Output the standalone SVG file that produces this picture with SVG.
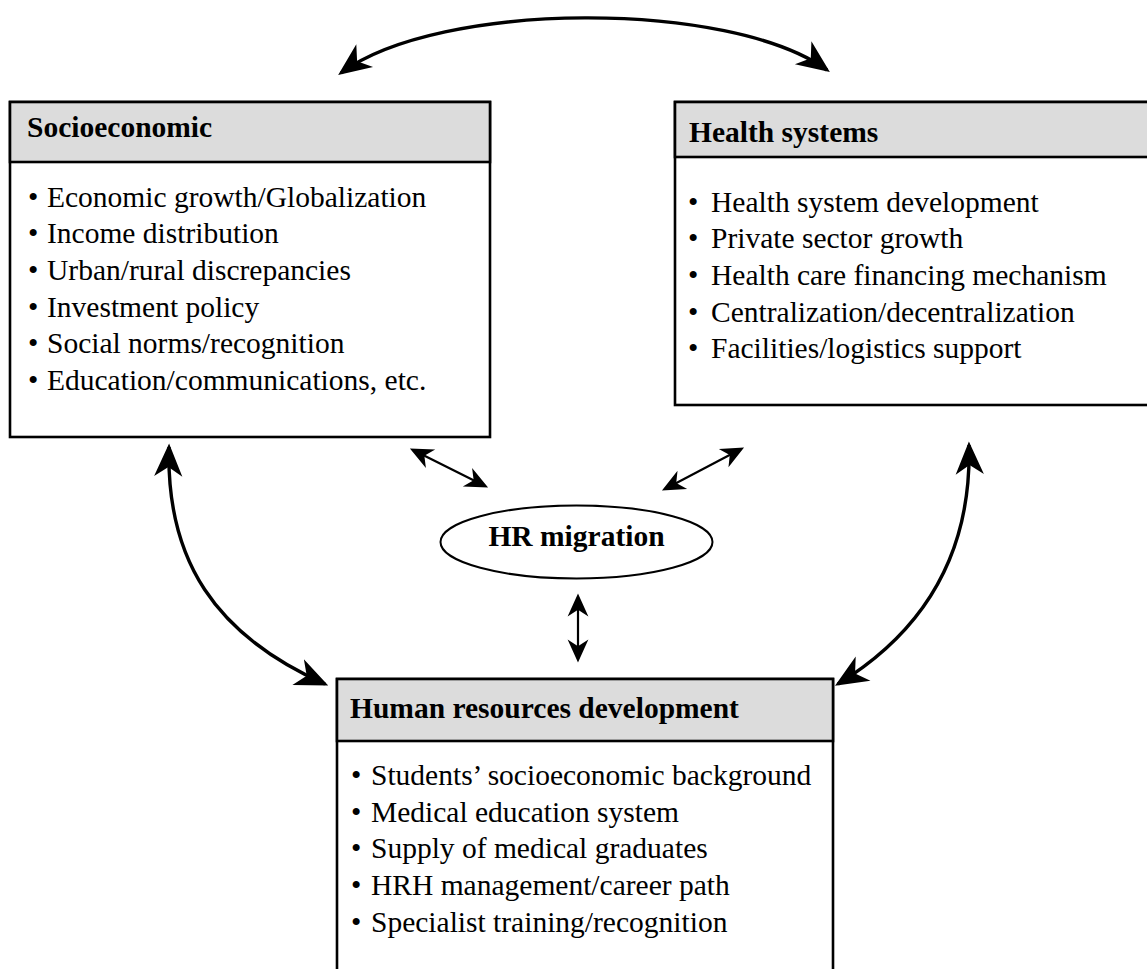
<svg xmlns="http://www.w3.org/2000/svg" width="1147" height="969" viewBox="0 0 1147 969">
<style>
.box{fill:#fff;stroke:#000;stroke-width:2.6}
.hdr{fill:#dcdcdc;stroke:#000;stroke-width:2.6}
.t{font-family:"Liberation Serif","Times New Roman",serif;font-size:29.5px;fill:#000}
.b{font-weight:bold}
.big{fill:none;stroke:#000;stroke-width:3.4}
.sm{fill:none;stroke:#000;stroke-width:2.2}
</style>
<defs>
<marker id="ah" markerUnits="userSpaceOnUse" markerWidth="40" markerHeight="40" refX="25" refY="0" viewBox="-2 -15 34 30" orient="auto-start-reverse" overflow="visible">
<path d="M28,0 L0,-12 L8,0 L0,12 Z" fill="#000"/>
</marker>
<marker id="as" markerUnits="userSpaceOnUse" markerWidth="30" markerHeight="30" refX="17" refY="0" viewBox="-2 -11 26 22" orient="auto-start-reverse" overflow="visible">
<path d="M20,0 L0,-9 L6,0 L0,9 Z" fill="#000"/>
</marker>
</defs>
<g id="connectors">
<path class="big" d="M341,73 C440,0 730,0 827,70" marker-start="url(#ah)" marker-end="url(#ah)"/>
<path class="big" d="M169,447 C166,560 215,635 325,684" marker-start="url(#ah)" marker-end="url(#ah)"/>
<path class="big" d="M969,445 C972,560 918,635 838,684" marker-start="url(#ah)" marker-end="url(#ah)"/>
<path class="sm" d="M413,450 L485,486" marker-start="url(#as)" marker-end="url(#as)"/>
<path class="sm" d="M741,449 L665,489" marker-start="url(#as)" marker-end="url(#as)"/>
<path class="sm" d="M578,597 L578,659" marker-start="url(#as)" marker-end="url(#as)"/>
</g>
<g id="socioeconomic">
<rect class="box" x="10" y="102" width="480" height="335"/>
<rect class="hdr" x="10" y="102" width="480" height="60"/>
<text class="t b" x="27" y="137">Socioeconomic</text>
<text class="t" x="28" y="206.7">•<tspan x="47">Economic growth/Globalization</tspan></text>
<text class="t" x="28" y="243.3">•<tspan x="47">Income distribution</tspan></text>
<text class="t" x="28" y="280">•<tspan x="47">Urban/rural discrepancies</tspan></text>
<text class="t" x="28" y="316.7">•<tspan x="47">Investment policy</tspan></text>
<text class="t" x="28" y="353.3">•<tspan x="47">Social norms/recognition</tspan></text>
<text class="t" x="28" y="390">•<tspan x="47">Education/communications, etc.</tspan></text>
</g>
<g id="health-systems">
<rect class="box" x="675" y="102" width="490" height="303"/>
<rect class="hdr" x="675" y="102" width="490" height="55"/>
<text class="t b" x="689" y="142">Health systems</text>
<text class="t" x="688" y="211.7">•<tspan x="711">Health system development</tspan></text>
<text class="t" x="688" y="248.3">•<tspan x="711">Private sector growth</tspan></text>
<text class="t" x="688" y="285">•<tspan x="711">Health care financing mechanism</tspan></text>
<text class="t" x="688" y="321.7">•<tspan x="711">Centralization/decentralization</tspan></text>
<text class="t" x="688" y="358.3">•<tspan x="711">Facilities/logistics support</tspan></text>
</g>
<g id="hr-migration">
<ellipse cx="576.5" cy="542" rx="136" ry="36.5" fill="#fff" stroke="#000" stroke-width="2"/>
<text class="t b" x="576.5" y="546" text-anchor="middle">HR migration</text>
</g>
<g id="human-resources-development">
<rect class="box" x="337" y="679" width="496" height="300"/>
<rect class="hdr" x="337" y="679" width="496" height="62"/>
<text class="t b" x="350" y="718">Human resources development</text>
<text class="t" x="351" y="785">•<tspan x="371">Students’ socioeconomic background</tspan></text>
<text class="t" x="351" y="821.7">•<tspan x="371">Medical education system</tspan></text>
<text class="t" x="351" y="858.3">•<tspan x="371">Supply of medical graduates</tspan></text>
<text class="t" x="351" y="895">•<tspan x="371">HRH management/career path</tspan></text>
<text class="t" x="351" y="931.7">•<tspan x="371">Specialist training/recognition</tspan></text>
</g>
</svg>
